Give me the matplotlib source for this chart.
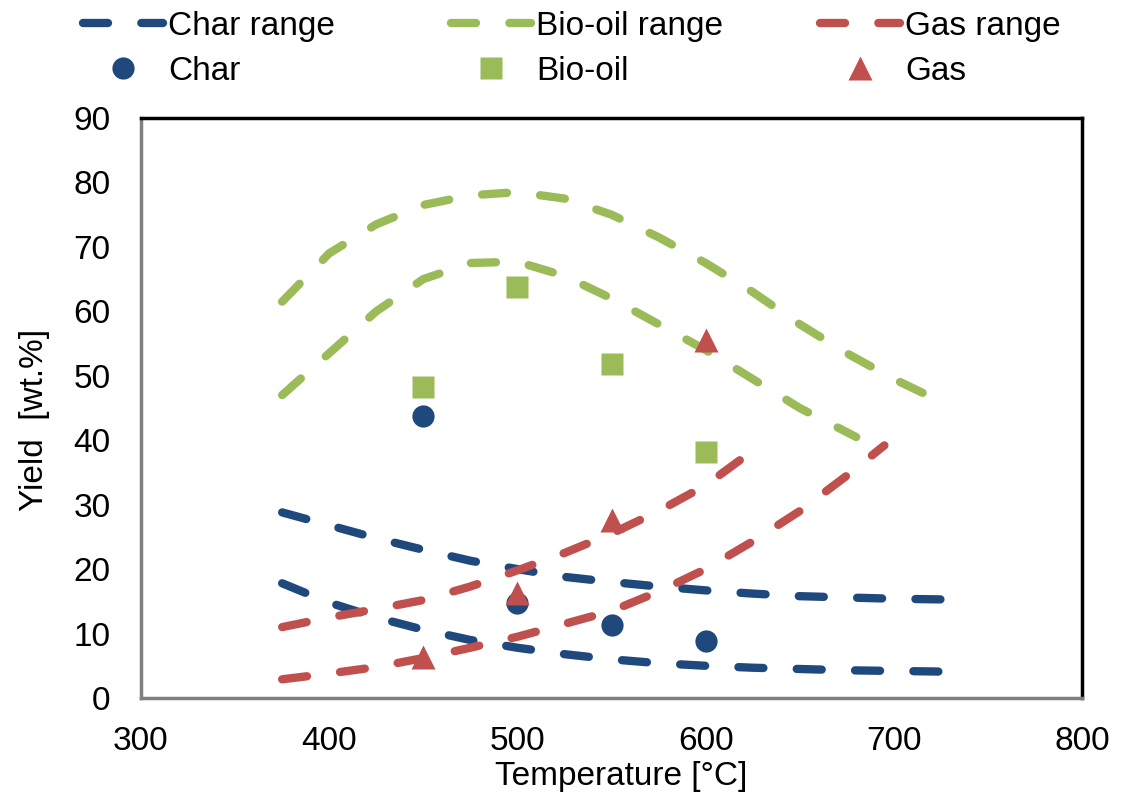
import matplotlib
matplotlib.use("Agg")
import matplotlib.pyplot as plt
from matplotlib.lines import Line2D

plt.rcParams['font.family'] = ['Liberation Sans', 'DejaVu Sans']

# Measured points
temps = [450, 500, 550, 600]
char_vals = [43.8, 14.8, 11.4, 8.8]
oil_vals = [48.2, 63.7, 51.8, 38.1]
gas_vals = [6.3, 16.3, 27.6, 55.6]

# Range curves
char_up_t = [375, 400, 425, 450, 475, 500, 525, 550, 575, 600, 625, 650, 675, 700, 725]
char_up_v = [28.8, 26.8, 24.8, 23.0, 21.3, 20.0, 18.8, 18.0, 17.3, 16.7, 16.2, 15.8, 15.6, 15.4, 15.3]
char_lo_t = [375, 400, 425, 450, 475, 500, 525, 550, 575, 600, 625, 650, 675, 700, 725]
char_lo_v = [17.8, 14.8, 12.5, 10.6, 9.0, 7.8, 6.8, 6.0, 5.4, 5.0, 4.7, 4.5, 4.3, 4.2, 4.1]
oil_up_t = [375, 400, 425, 450, 475, 500, 525, 550, 575, 600, 625, 650, 675, 700, 725]
oil_up_v = [61.5, 69.0, 73.5, 76.5, 78.0, 78.5, 77.5, 75.0, 71.5, 67.5, 63.0, 58.0, 53.5, 49.5, 46.0]
oil_lo_t = [375, 400, 425, 450, 475, 500, 525, 550, 575, 600, 625, 650, 680]
oil_lo_v = [47.0, 53.5, 60.0, 65.0, 67.5, 67.7, 65.5, 62.0, 58.0, 54.0, 49.5, 45.0, 40.5]
gas_up_t = [375, 400, 425, 450, 475, 500, 525, 550, 575, 600, 628]
gas_up_v = [11.0, 12.5, 13.8, 15.2, 17.3, 19.8, 22.5, 25.5, 29.0, 33.0, 39.0]
gas_lo_t = [375, 400, 425, 450, 475, 500, 525, 550, 575, 600, 625, 650, 675, 695]
gas_lo_v = [2.9, 3.8, 4.8, 6.2, 7.8, 9.5, 11.5, 13.5, 16.5, 20.0, 24.3, 29.0, 34.5, 39.2]

x_ticks = [300, 400, 500, 600, 700, 800]
y_ticks = [0, 10, 20, 30, 40, 50, 60, 70, 80, 90]

c_char = '#1F497D'
c_oil = '#9BBB59'
c_gas = '#C0504D'

W, H = 1132, 805
fig = plt.figure(figsize=(W / 100, H / 100), dpi=100)
ax = fig.add_axes([141 / W, 1 - 698 / H, (1082 - 141) / W, (698 - 118) / H])

lw = 6
dash = (3.0, 4.0)
FS = 24

def rng(t, v, c):
    ax.plot(t, v, color=c, lw=lw, dashes=dash, dash_capstyle='round',
            solid_capstyle='round', solid_joinstyle='round', zorder=2)

rng(char_up_t, char_up_v, c_char)
rng(char_lo_t, char_lo_v, c_char)
rng(oil_up_t, oil_up_v, c_oil)
rng(oil_lo_t, oil_lo_v, c_oil)
rng(gas_up_t, gas_up_v, c_gas)
rng(gas_lo_t, gas_lo_v, c_gas)

ax.plot(temps, char_vals, 'o', color=c_char, ms=16, mec='none', zorder=3)
ax.plot(temps, oil_vals, 's', color=c_oil, ms=16, mec='none', zorder=3)
ax.plot(temps, gas_vals, '^', color=c_gas, ms=17, mec='none', zorder=3)

ax.set_xlim(300, 800)
ax.set_ylim(0, 90)
ax.set_xticks(x_ticks)
ax.set_yticks(y_ticks)
ax.tick_params(axis='x', length=0, labelsize=FS, pad=20)
ax.tick_params(axis='y', length=0, labelsize=FS, pad=22)
for side in ['top', 'right']:
    ax.spines[side].set_linewidth(2.5)
    ax.spines[side].set_color('black')
for side in ['left', 'bottom']:
    ax.spines[side].set_linewidth(2.5)
    ax.spines[side].set_color('#808080')

ax.set_xlabel('Temperature [°C]', fontsize=FS)
ax.set_ylabel('Yield  [wt.%]', fontsize=FS)
ax.xaxis.set_label_coords((621 - 141) / 941, (698 - 761) / 580)
ax.yaxis.set_label_coords((50 - 141) / 941, (698 - 420) / 580)

def line_h(c):
    return Line2D([], [], color=c, lw=lw, dashes=dash, dash_capstyle='round')

groups = [
    ([line_h(c_char), Line2D([], [], color=c_char, marker='o', ls='none', ms=16, mec='none')],
     ['Char range', 'Char'], 83),
    ([line_h(c_oil), Line2D([], [], color=c_oil, marker='s', ls='none', ms=16, mec='none')],
     ['Bio-oil range', 'Bio-oil'], 451),
    ([line_h(c_gas), Line2D([], [], color=c_gas, marker='^', ls='none', ms=17, mec='none')],
     ['Gas range', 'Gas'], 820),
]
for hs, ls, x0 in groups:
    fig.legend(hs, ls, loc='upper left', bbox_to_anchor=(x0 / W, 1 - 11 / H),
               frameon=False, fontsize=FS, handlelength=2.4, handletextpad=0.15,
               borderpad=0, borderaxespad=0, labelspacing=0.42)

fig.savefig('out.png', dpi=100)
